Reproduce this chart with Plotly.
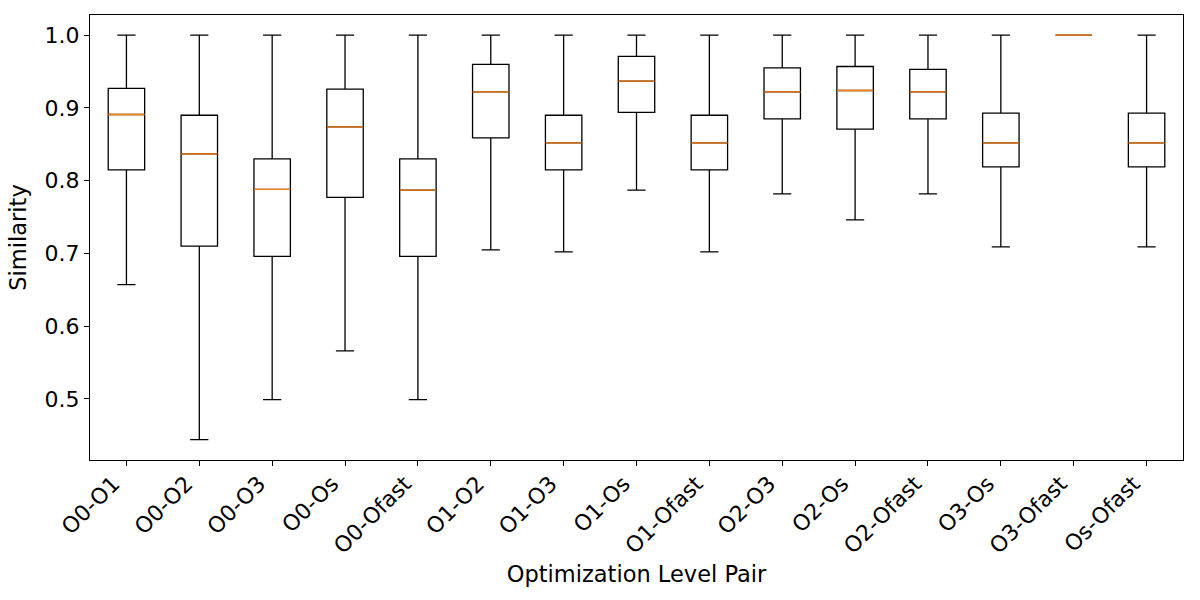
import plotly.graph_objects as go

pairs = ["O0-O1", "O0-O2", "O0-O3", "O0-Os", "O0-Ofast", "O1-O2", "O1-O3", "O1-Os",
         "O1-Ofast", "O2-O3", "O2-Os", "O2-Ofast", "O3-Os", "O3-Ofast", "Os-Ofast"]
upper_whisker = [1.0, 1.0, 1.0, 1.0, 1.0, 1.0, 1.0, 1.0, 1.0, 1.0, 1.0, 1.0, 1.0, 1.0, 1.0]
q3 = [0.927, 0.890, 0.830, 0.926, 0.830, 0.960, 0.890, 0.971, 0.890, 0.955, 0.957, 0.953, 0.893, 1.0, 0.893]
median = [0.891, 0.837, 0.788, 0.874, 0.787, 0.922, 0.852, 0.937, 0.852, 0.922, 0.924, 0.922, 0.852, 1.0, 0.852]
q1 = [0.815, 0.710, 0.696, 0.777, 0.696, 0.859, 0.815, 0.894, 0.815, 0.885, 0.871, 0.885, 0.819, 1.0, 0.819]
lower_whisker = [0.657, 0.444, 0.499, 0.566, 0.499, 0.705, 0.702, 0.787, 0.702, 0.782, 0.746, 0.782, 0.709, 1.0, 0.709]

FONT = "DejaVu Sans"

fig = go.Figure()
fig.add_trace(go.Box(
    x=pairs, q1=q1, median=median, q3=q3,
    lowerfence=lower_whisker, upperfence=upper_whisker,
    width=0.5, whiskerwidth=0.5,
    fillcolor="rgba(0,0,0,0)",
    line=dict(color="black", width=1.3),
    boxpoints=False, showlegend=False, hoverinfo="skip",
))
fig.add_trace(go.Box(
    x=pairs, q1=median, median=median, q3=median,
    lowerfence=median, upperfence=median,
    width=0.5, whiskerwidth=0,
    fillcolor="rgba(0,0,0,0)",
    line=dict(color="#ff7f0e", width=1.3),
    boxpoints=False, showlegend=False, hoverinfo="skip",
))

fig.update_layout(
    width=1200, height=600,
    margin=dict(l=90, r=17, t=15, b=140, autoexpand=False),
    paper_bgcolor="white", plot_bgcolor="white",
    boxmode="overlay",
    font=dict(family=FONT, color="black"),
    xaxis=dict(
        type="category", range=[-0.5, 14.5], automargin=False,
        showline=True, linecolor="black", linewidth=1.3, mirror=True,
        ticks="outside", ticklen=5, tickcolor="black", tickwidth=1.3,
        tickangle=-45, tickfont=dict(size=22, family=FONT),
        ticklabelshift=-13, ticklabelstandoff=-4,
        showgrid=False, zeroline=False,
        title=dict(text="Optimization Level Pair", font=dict(size=22.5, family=FONT), standoff=8),
    ),
    yaxis=dict(
        range=[0.416, 1.0278], automargin=False,
        tickmode="array", tickvals=[0.5, 0.6, 0.7, 0.8, 0.9, 1.0],
        ticktext=["0.5", "0.6", "0.7", "0.8", "0.9", "1.0"],
        showline=True, linecolor="black", linewidth=1.3, mirror=True,
        ticks="outside", ticklen=5, tickcolor="black", tickwidth=1.3,
        tickfont=dict(size=22, family=FONT),
        showgrid=False, zeroline=False,
        title=dict(text="Similarity", font=dict(size=22.5, family=FONT), standoff=11),
    ),
)

fig.write_html("out.html", config={"displayModeBar": False},
               post_script="document.body.style.margin='0';")
